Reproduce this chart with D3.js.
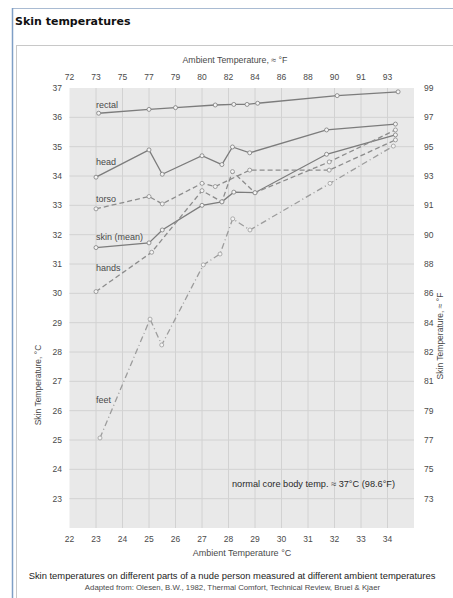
<!DOCTYPE html>
<html><head><meta charset="utf-8">
<script src="https://cdn.jsdelivr.net/npm/d3@7"></script>
<style>html,body{margin:0;padding:0;background:#fff;}svg{display:block;}</style>
</head><body>
<script>
// ---- data ----
const ambientC = [22,23,24,25,26,27,28,29,30,31,32,33,34];
const ambientFLabels = ["72","73","75","77","79","80","82","84","86","88","90","91","93"];
const skinC = [37,36,35,34,33,32,31,30,29,28,27,26,25,24,23];
const skinFLabels = ["99","97","95","93","91","90","88","86","84","82","81","79","77","75","73"];

const rectalX = [23.1,25.0,26.0,27.5,28.2,28.7,29.1,32.1,34.4];
const rectalY = [36.14,36.27,36.33,36.42,36.44,36.44,36.48,36.74,36.87];
const headX = [23.0,25.0,25.5,27.0,27.75,28.15,28.8,31.7,34.3];
const headY = [33.96,34.89,34.06,34.69,34.39,34.99,34.79,35.57,35.77];
const torsoX = [23.0,25.0,25.5,27.0,27.5,28.8,31.8,34.3];
const torsoY = [32.88,33.30,33.05,33.75,33.64,34.20,34.20,35.23];
const skinX = [23.0,25.0,25.5,27.0,27.75,28.2,29.0,31.7,34.3];
const skinY = [31.56,31.72,32.16,33.00,33.12,33.45,33.43,34.74,35.40];
const handsX = [23.0,25.1,27.0,27.75,28.15,29.0,31.8,34.3];
const handsY = [30.06,31.40,33.50,33.12,34.15,33.43,34.48,35.57];
const feetX = [23.15,25.04,25.48,27.05,27.68,28.16,28.81,31.83,34.22];
const feetY = [25.07,29.12,28.24,30.97,31.34,32.54,32.16,33.75,35.02];

const seriesNames = ["rectal","head","torso","skin (mean)","hands","feet"];
const seriesX = [rectalX, headX, torsoX, skinX, handsX, feetX];
const seriesY = [rectalY, headY, torsoY, skinY, handsY, feetY];
const seriesDash = ["", "", "5,3", "", "5,3", "6,3,1,3"];
const seriesColor = ["#7c7c7c","#7c7c7c","#8c8c8c","#7c7c7c","#8c8c8c","#9c9c9c"];
const labelY = [36.33, 34.36, 33.13, 31.82, 30.77, 26.27];

// ---- layout ----
const W = 453, H = 598;
const svg = d3.select("body").append("svg").attr("width", W).attr("height", H);
const FONT = "'Liberation Sans', Arial, sans-serif";

// frame
svg.append("line").attr("x1",12).attr("x2",W).attr("y1",8.5).attr("y2",8.5).attr("stroke","#a9bbd2").attr("stroke-width",1);
svg.append("line").attr("x1",12.5).attr("x2",12.5).attr("y1",8).attr("y2",H).attr("stroke","#7f9fc6").attr("stroke-width",1.5);
svg.append("rect").attr("x",16.5).attr("y",45.5).attr("width",W).attr("height",H).attr("fill","none").attr("stroke","#c8c8c8");

svg.append("text").attr("x",15).attr("y",25).text("Skin temperatures")
  .attr("font-family","'DejaVu Sans', Verdana, sans-serif").attr("font-weight","bold").attr("font-size",11).attr("fill","#111");

const x = d3.scaleLinear().domain([22,35]).range([69.5,414]);
const y = d3.scaleLinear().domain([22,37]).range([528,88]);

const g = svg.append("g");
g.append("rect").attr("x",x(22)).attr("y",y(37)).attr("width",x(35)-x(22)).attr("height",y(22)-y(37)).attr("fill","#e9e9e9");

// grid
g.append("g").selectAll("line").data(ambientC.filter(d=>d>22)).join("line")
  .attr("x1",d=>x(d)).attr("x2",d=>x(d)).attr("y1",y(37)).attr("y2",y(22))
  .attr("stroke","#d2d2d2").attr("stroke-width",1);
g.append("g").selectAll("line").data(skinC.filter(d=>d<37)).join("line")
  .attr("x1",x(22)).attr("x2",x(35)).attr("y1",d=>y(d)).attr("y2",d=>y(d))
  .attr("stroke","#d2d2d2").attr("stroke-width",1);

// axes (as text labels via scales)
const txt = (sel)=>sel.attr("font-family",FONT).attr("fill","#4a4a4a");
txt(g.append("g").selectAll("text").data(ambientC).join("text")
  .attr("x",d=>x(d)).attr("y",542).attr("text-anchor","middle").attr("font-size",8.5).text(d=>d));
txt(g.append("g").selectAll("text").data(ambientFLabels).join("text")
  .attr("x",(d,i)=>x(ambientC[i])).attr("y",80).attr("text-anchor","middle").attr("font-size",8.5).text(d=>d));
txt(g.append("g").selectAll("text").data(skinC).join("text")
  .attr("x",62).attr("y",d=>y(d)).attr("dy","0.35em").attr("text-anchor","end").attr("font-size",8.5).text(d=>d));
txt(g.append("g").selectAll("text").data(skinFLabels).join("text")
  .attr("x",424).attr("y",(d,i)=>y(skinC[i])).attr("dy","0.35em").attr("text-anchor","start").attr("font-size",8.5).text(d=>d));

txt(svg.append("text").attr("x",235).attr("y",63).attr("text-anchor","middle").attr("font-size",8.8).text("Ambient Temperature, \u2248 \u00B0F"));
txt(svg.append("text").attr("x",242).attr("y",556).attr("text-anchor","middle").attr("font-size",9).text("Ambient Temperature \u00B0C"));
txt(svg.append("text").attr("transform","translate(41,385) rotate(-90)").attr("text-anchor","middle").attr("font-size",8.5).text("Skin Temperature, \u00B0C"));
txt(svg.append("text").attr("transform","translate(443,336) rotate(-90)").attr("text-anchor","middle").attr("font-size",8.5).text("Skin Temperature, \u2248 \u00B0F"));
txt(svg.append("text").attr("x",313.5).attr("y",487).attr("text-anchor","middle").attr("font-size",9.2).text("normal core body temp. \u2248 37\u00B0C (98.6\u00B0F)")).attr("fill","#2a2a2a");
txt(svg.append("text").attr("x",232).attr("y",579).attr("text-anchor","middle").attr("font-size",9.4).text("Skin temperatures on different parts of a nude person measured at different ambient temperatures")).attr("fill","#222");
txt(svg.append("text").attr("x",232.5).attr("y",590).attr("text-anchor","middle").attr("font-size",7.8).text("Adapted from: Olesen, B.W., 1982, Thermal Comfort, Technical Review, Bruel & Kjaer"));

// series
const line = d3.line().x(d=>x(d[0])).y(d=>y(d[1]));
seriesNames.forEach((name,i)=>{
  const pts = seriesX[i].map((v,j)=>[v, seriesY[i][j]]);
  g.append("path").attr("d",line(pts)).attr("fill","none")
    .attr("stroke",seriesColor[i]).attr("stroke-width",1.3).attr("stroke-dasharray",seriesDash[i]);
  g.append("g").selectAll("circle").data(pts).join("circle")
    .attr("cx",d=>x(d[0])).attr("cy",d=>y(d[1])).attr("r",2)
    .attr("fill","#f4f4f4").attr("stroke",seriesColor[i]).attr("stroke-width",0.8);
  txt(g.append("text").attr("x",x(23)).attr("y",y(labelY[i])).attr("font-size",9).attr("fill","#333").text(name));
});
</script>
</body></html>
